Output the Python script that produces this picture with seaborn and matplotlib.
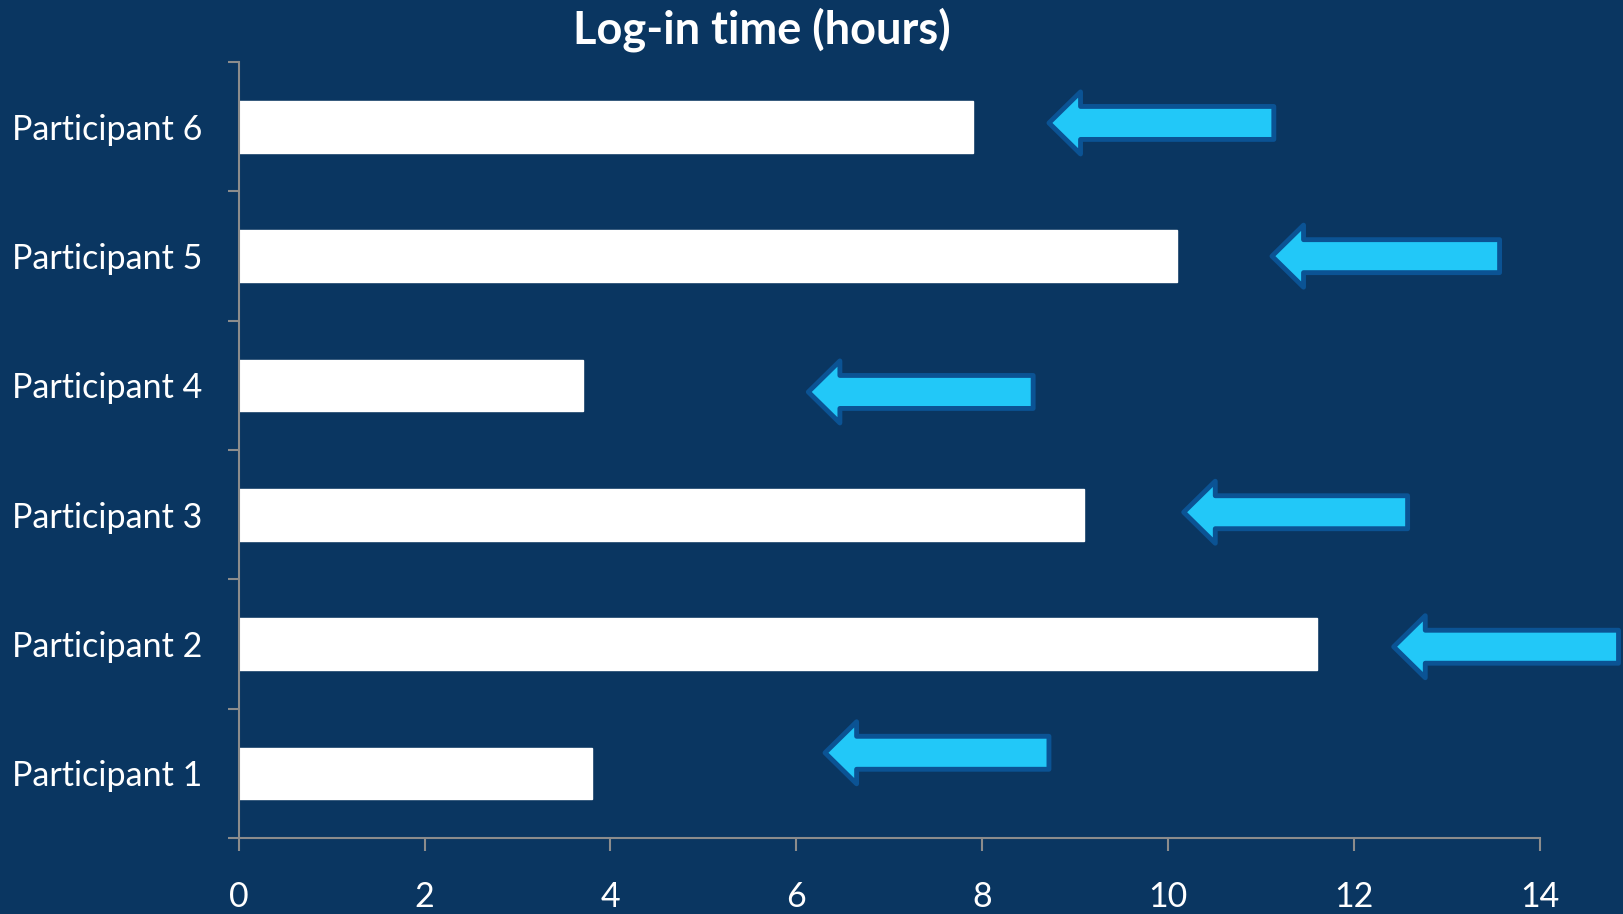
import matplotlib.pyplot as plt
import numpy as np
import pandas as pd
import seaborn as sns
from matplotlib.patches import FancyArrow

participants = ["Participant 6", "Participant 5", "Participant 4",
                "Participant 3", "Participant 2", "Participant 1"]
hours = [7.9, 10.1, 3.7, 9.1, 11.6, 3.8]

# arrows next to each bar (data units): tail x, tip x, vertical shift
arrow_tail = [11.14, 13.57, 8.55, 12.58, 14.85, 8.72]
arrow_tip = [8.72, 11.12, 6.13, 10.17, 12.43, 6.31]
arrow_shift = [-0.03, 0.0, 0.05, -0.02, 0.02, -0.16]

xticks = [0, 2, 4, 6, 8, 10, 12, 14]

bg = "#0A3661"
axis_grey = "#8C8C8C"

df = pd.DataFrame({"participant": participants, "hours": hours})

sns.set_theme(style="white")
plt.rcParams["font.family"] = ["Lato", "DejaVu Sans"]

fig = plt.figure(figsize=(16.24, 9.14), dpi=100, facecolor=bg)
ax = fig.add_axes([0.147, 0.083, 0.801, 0.849])
ax.set_facecolor(bg)

sns.barplot(data=df, x="hours", y="participant", order=participants,
            color="white", width=0.4, saturation=1, ax=ax)

for i, (tail, tip, dy) in enumerate(zip(arrow_tail, arrow_tip, arrow_shift)):
    ax.add_patch(FancyArrow(tail, i + dy, tip - tail, 0, width=0.255,
                            head_width=0.48, head_length=0.34,
                            length_includes_head=True, fc="#22C8F8",
                            ec="#0B5394", lw=3.5, joinstyle="round",
                            clip_on=False, zorder=5))

ax.set_xlim(0, 14)
ax.set_ylim(5.5, -0.5)
ax.set_xticks(xticks)
ax.set_xticklabels([str(t) for t in xticks])
ax.set_xlabel("")
ax.set_ylabel("")

for side in ["top", "right"]:
    ax.spines[side].set_visible(False)
for side in ["left", "bottom"]:
    ax.spines[side].set_color(axis_grey)
    ax.spines[side].set_linewidth(1.5)

ax.tick_params(axis="x", which="major", direction="out", length=9, width=1.5,
               color=axis_grey, labelsize=24.5, labelcolor="white", pad=22,
               bottom=True)
ax.tick_params(axis="y", which="major", length=0, labelsize=24.5,
               labelcolor="white", pad=26)
ax.set_yticks(np.arange(-0.5, 6, 1), minor=True)
ax.tick_params(axis="y", which="minor", direction="out", length=8, width=1.5,
               color=axis_grey, left=True)

fig.text(0.469, 0.968, "Log-in time (hours)", ha="center", va="center",
         color="white", fontsize=32.5, fontweight="bold")

fig.savefig("out.png", dpi=100, facecolor=bg)
